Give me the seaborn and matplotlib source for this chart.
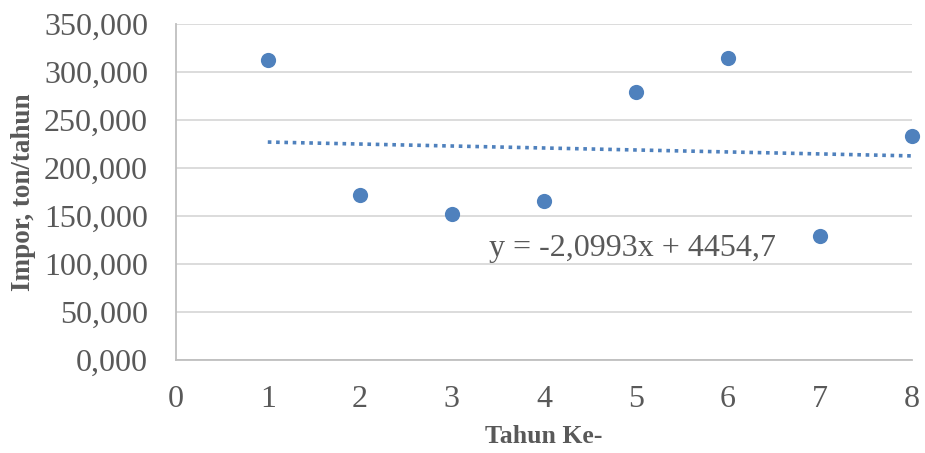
import matplotlib
matplotlib.use("Agg")
import matplotlib.pyplot as plt
import seaborn as sns
import pandas as pd
from matplotlib.ticker import FuncFormatter

tahun = [1, 2, 3, 4, 5, 6, 7, 8]
impor = [313, 172, 152, 166, 279, 315, 129, 233]
x_ticks = [0, 1, 2, 3, 4, 5, 6, 7, 8]
y_ticks = [0, 50, 100, 150, 200, 250, 300, 350]
persamaan = "y = -2,0993x + 4454,7"

sns.set_style("white")
plt.rcParams['font.family'] = ['Liberation Serif', 'DejaVu Serif']

df = pd.DataFrame({"Tahun Ke-": tahun, "Impor": impor})

fig = plt.figure(figsize=(9.25, 4.53), dpi=100)
ax = fig.add_axes([0.19, 0.205, 0.796, 0.742])

blue = "#4F81BD"
grey = "#595959"

sns.regplot(data=df, x="Tahun Ke-", y="Impor", ax=ax, ci=None,
            scatter_kws=dict(s=120, color=blue, alpha=1, clip_on=False, zorder=4, linewidths=0),
            line_kws=dict(color=blue, lw=2.6, linestyle=(0, (1, 1.3)), zorder=3))

ax.set_xlim(0, 8)
ax.set_ylim(0, 350)
ax.set_xticks(x_ticks)
ax.set_yticks(y_ticks)
ax.yaxis.set_major_formatter(FuncFormatter(lambda v, p: f"{v:.3f}".replace(".", ",")))
ax.tick_params(axis='both', length=0, labelsize=23, labelcolor=grey)
ax.tick_params(axis='x', pad=18)
ax.tick_params(axis='y', pad=20)

ax.yaxis.grid(True, color="#D9D9D9", lw=1.3)
ax.xaxis.grid(False)
ax.set_axisbelow(True)
for side in ["top", "right"]:
    ax.spines[side].set_visible(False)
for side in ["left", "bottom"]:
    ax.spines[side].set_color("#BFBFBF")
    ax.spines[side].set_linewidth(1.3)

ax.set_xlabel("Tahun Ke-", fontsize=18.5, fontweight="bold", color=grey, labelpad=8)
ax.set_ylabel("Impor, ton/tahun", fontsize=19.5, fontweight="bold", color=grey, labelpad=6)

ax.text(3.4, 108, persamaan, fontsize=23, color=grey, va="baseline", ha="left")

fig.savefig("out.png", dpi=100)
